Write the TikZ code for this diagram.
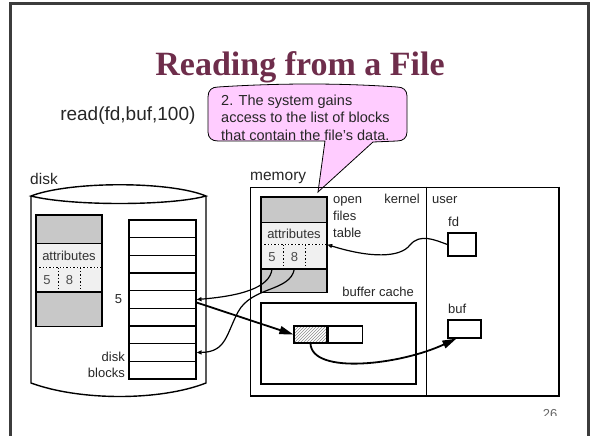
\documentclass[tikz,border=0pt]{standalone}
\usepackage{fontspec}
\setmainfont{Liberation Serif}
\setsansfont{Liberation Sans}
\usepackage{xcolor}
\usetikzlibrary{arrows.meta,positioning,patterns,calc}

\definecolor{titlered}{RGB}{110,45,75}
\definecolor{blockgray}{RGB}{200,200,200}
\definecolor{blocklight}{RGB}{240,240,240}
\definecolor{notepink}{RGB}{255,204,255}
\definecolor{framegray}{RGB}{60,60,60}

\begin{document}
\begin{tikzpicture}[x=1pt,y=-1pt,
    lbl/.style={font=\sffamily\fontsize{13}{15}\selectfont,inner sep=0pt,text=black!85},
    biglbl/.style={font=\sffamily\fontsize{15.5}{18}\selectfont,inner sep=0pt,text=black!85},
    sect/.style={minimum width=66pt,inner sep=0pt,font=\sffamily\fontsize{13}{15}\selectfont,text=black!80},
    cell/.style={minimum width=22pt,minimum height=24pt,inner sep=0pt,font=\sffamily\fontsize{13}{15}\selectfont,text=black!70},
    blk/.style={draw,line width=1.2pt,minimum width=67pt,minimum height=17.67pt,inner sep=0pt},
    box/.style={draw,line width=1.2pt,inner sep=0pt},
    ptr/.style={line width=1.2pt,-{Triangle[open,length=5pt,width=4pt]}},
    copyarrow/.style={line width=1.8pt,-{Triangle[length=14pt,width=8pt]}}]
    \useasboundingbox (0,0) rectangle (590,436);

    % Slide frame
    \draw[line width=3pt,framegray] (10,436) -- (10,4) -- (588,4) -- (588,436);

    % Title and call
    \node[font=\bfseries\fontsize{34}{40}\selectfont,text=titlered,anchor=base] (title) at (300,76) {Reading from a File};
    \node[font=\sffamily\fontsize{19}{22}\selectfont,text=black!85,anchor=base east] (call) at (199,121) {read(fd,buf,100)};

    % Callout
    \coordinate (tip) at (318,192);
    \draw[line width=0.8pt,fill=notepink] (208,97) .. controls (208,90) and (212,87) .. (218,87)
        .. controls (280,83) and (340,83) .. (397,87)
        .. controls (403,87) and (407,90) .. (407,96) -- (407,132)
        .. controls (407,138) and (403,141) .. (397,141)
        -- (373,142) -- (tip) -- (325,141) -- (218,141)
        .. controls (212,141) and (208,138) .. (208,132) -- cycle;
    \node[lbl,font=\sffamily\fontsize{14.5}{17}\selectfont,anchor=base west] (note1) at (221,106) {2. The system gains};
    \node[lbl,font=\sffamily\fontsize{14.5}{17}\selectfont,anchor=base west] (note2) at (221,123) {access to the list of blocks};
    \node[lbl,font=\sffamily\fontsize{14.5}{17}\selectfont,anchor=base west] (note3) at (221,140) {that contain the file's data.};

    % Disk
    \node[biglbl,anchor=base west] (disklbl) at (30,185) {disk};
    \draw[line width=1.4pt] (31,196) .. controls (70,181) and (170,181) .. (206,196)
        .. controls (170,206) and (70,206) .. cycle;
    \draw[line width=1.4pt] (31,196) -- (31,383) .. controls (80,401) and (160,401) .. (206,383) -- (206,196);

    % Attributes on disk
    \node[sect,fill=blockgray,minimum height=28pt] (dtop) at (69,229) {};
    \node[sect,fill=blocklight,minimum height=24pt,below=0pt of dtop] (dattr) {attributes};
    \node[sect,fill=blocklight,minimum height=24pt,below=0pt of dattr] (dptr) {};
    \node[sect,fill=blockgray,minimum height=34pt,below=0pt of dptr] (dbot) {};
    \node[cell,anchor=west] (d5) at (dptr.west) {5};
    \node[cell,right=0pt of d5] (d8) {8};
    \draw[line width=1.6pt] (dtop.north west) rectangle (dbot.south east);
    \draw[line width=1.2pt] (dattr.north west) -- (dattr.north east) (dbot.north west) -- (dbot.north east);
    \draw[line width=1.4pt,dotted] (dptr.north west) -- (dptr.north east)
        (d5.north east) -- (d5.south east) (d8.north east) -- (d8.south east);

    % Disk blocks
    \foreach \i in {1,...,9}
        \node[blk] (blk\i) at (162.5,{220+17.67*(\i-0.5)}) {};
    \node[lbl,left=6pt of blk5] (blk5lbl) {5};
    \node[lbl,anchor=base east] (disklbl2) at (125,361.5) {disk};
    \node[lbl,anchor=base east] (blockslbl) at (125,377.5) {blocks};

    % Memory
    \node[biglbl,anchor=base west] (memlbl) at (250,180) {memory};
    \node[draw,line width=1pt,minimum width=308pt,minimum height=208pt,inner sep=0pt] (mem) at (404,291) {};
    \draw[line width=2pt] (mem.north east) -- (mem.south east) -- (mem.south west);
    \coordinate (split) at (426,0);
    \draw[line width=1pt] (mem.north -| split) -- (mem.south -| split);
    \node[lbl,anchor=base east] (kernel) at (420,203.5) {kernel};
    \node[lbl,anchor=base west] (user) at (432,203.5) {user};

    % Open files table
    \node[sect,fill=blockgray,minimum height=25pt] (mtop) at (294,209.5) {};
    \node[sect,fill=blocklight,minimum height=22pt,below=0pt of mtop] (mattr) {attributes};
    \node[sect,fill=blocklight,minimum height=24pt,below=0pt of mattr] (mptr) {};
    \node[sect,fill=blockgray,minimum height=23pt,below=0pt of mptr] (mbot) {};
    \node[cell,anchor=west] (m5) at (mptr.west) {5};
    \node[cell,right=0pt of m5] (m8) {8};
    \draw[line width=1.6pt] (mtop.north west) rectangle (mbot.south east);
    \draw[line width=1.2pt] (mattr.north west) -- (mattr.north east) (mbot.north west) -- (mbot.north east);
    \draw[line width=1.4pt,dotted] (mptr.north west) -- (mptr.north east)
        (m5.north east) -- (m5.south east) (m8.north east) -- (m8.south east);
    \node[lbl,anchor=base west] (open) at (333,203.5) {open};
    \node[lbl,anchor=base west] (files) at (333,220.5) {files};
    \node[lbl,anchor=base west] (table) at (333,237.5) {table};

    % Buffer cache
    \node[box,minimum width=155pt,minimum height=81pt] (cache) at (338.5,343.5) {};
    \node[lbl,anchor=base east] (cachelbl) at (414,296.5) {buffer cache};
    \node[box,pattern=north east lines,pattern color=black!45,minimum width=33pt,minimum height=17pt] (hatch) at (310.5,334.5) {};
    \node[box,minimum width=34pt,minimum height=17pt,right=0pt of hatch] (free) {};

    % User variables
    \node[lbl,anchor=base west] (fdlbl) at (448,226.5) {fd};
    \node[box,minimum width=28pt,minimum height=23pt] (fd) at (462,244.5) {};
    \node[lbl,anchor=base west] (buflbl) at (448,313.5) {buf};
    \node[box,minimum width=33pt,minimum height=18pt] (buf) at (464.5,329) {};

    % Pointers
    \draw[ptr] (fd.west) .. controls (435,240) and (420,233) .. (410,245)
        .. controls (400,258) and (370,258) .. (mptr.north east);
    \draw[ptr] (m5.south) .. controls (270,288) and (240,296) .. (blk5.east);
    \draw[ptr] (m8.south) .. controls (290,292) and (252,286) .. (238,312)
        .. controls (226,335) and (226,352) .. (blk8.east);

    % Data movement
    \draw[copyarrow] ($(blk5.east)+(0,3)$) -- (hatch.west);
    \draw[copyarrow] (hatch.south) .. controls (312,375) and (400,365) .. ($(buf.south west)+(9,0)$);

    % Page number
    \begin{scope}
        \clip (530,400) rectangle (570,415);
        \node[font=\sffamily\fontsize{13}{15}\selectfont,text=black!60,anchor=base] (page) at (550,418.5) {26};
    \end{scope}
\end{tikzpicture}
\end{document}
